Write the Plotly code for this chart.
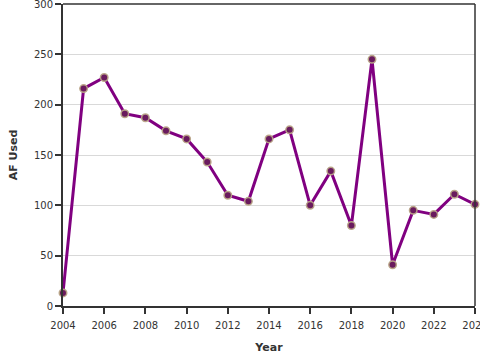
import plotly.graph_objects as go

years = list(range(2004, 2025))
af_used = [13, 216, 227, 191, 187, 174, 166, 143, 110, 104, 166, 175, 100, 134, 80, 245, 41, 95, 91, 111, 101]

fig = go.Figure()
fig.add_trace(go.Scatter(
    x=years, y=af_used, mode="lines+markers",
    line=dict(color="#800080", width=3),
    marker=dict(size=7.5, color="#6a1b5e", line=dict(color="rgba(185,165,135,0.95)", width=1.5)),
    cliponaxis=False,
))

fig.update_layout(
    width=480, height=360,
    margin=dict(l=63, r=5, t=4, b=54, autoexpand=False),
    paper_bgcolor="white", plot_bgcolor="white",
    font=dict(family="DejaVu Sans", size=10, color="#333"),
    showlegend=False,
    xaxis=dict(
        range=[2004, 2024], tickvals=list(range(2004, 2025, 2)),
        showgrid=False, zeroline=False, automargin=False, ticklabeloverflow="allow",
        ticklabelstandoff=3,
        showline=True, linecolor="#333", linewidth=2,
        ticks="outside", ticklen=6, tickcolor="#333", tickwidth=1.5,
        title=dict(text="<b>Year</b>", font=dict(size=11, color="#333"), standoff=13),
    ),
    yaxis=dict(
        range=[0, 300], tickvals=list(range(0, 301, 50)),
        showgrid=True, gridcolor="#d9d9d9", gridwidth=1, zeroline=False, automargin=False,
        ticklabeloverflow="allow",
        showline=True, linecolor="#333", linewidth=2,
        ticks="outside", ticklen=6, tickcolor="#333", tickwidth=1.5,
        title=dict(text="<b>AF Used</b>", font=dict(size=11, color="#333"), standoff=14),
    ),
    shapes=[
        dict(type="line", xref="paper", yref="paper", x0=0, x1=1, y0=1, y1=1,
             line=dict(color="#333", width=1.5)),
        dict(type="line", xref="paper", yref="paper", x0=1, x1=1, y0=0, y1=1,
             line=dict(color="#333", width=1.5)),
    ],
)

fig.write_html(
    "out.html",
    config={"displayModeBar": False},
    post_script="document.body.style.margin='0';document.body.style.overflow='hidden';",
)
